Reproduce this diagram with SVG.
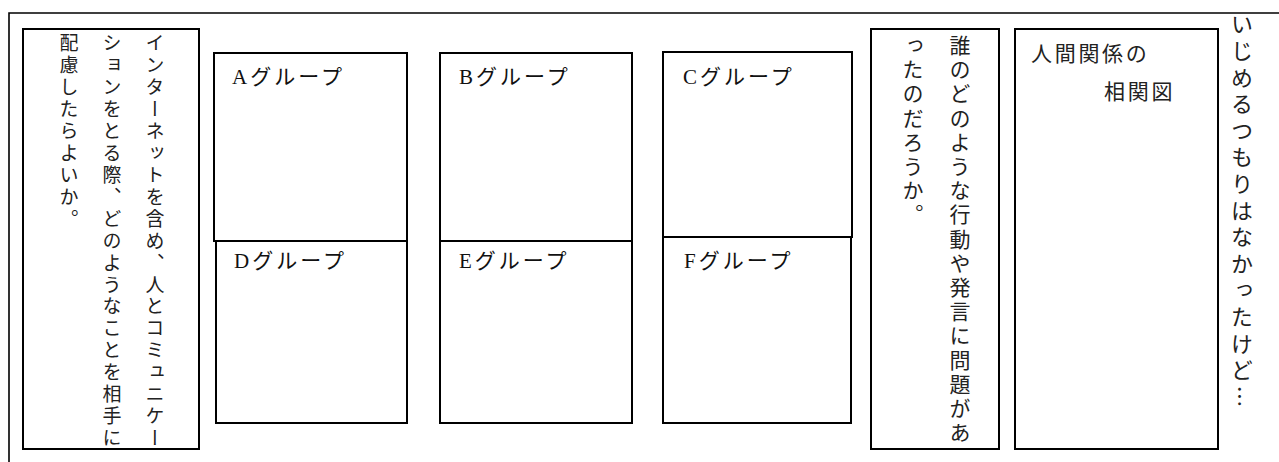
<svg xmlns="http://www.w3.org/2000/svg" width="1279" height="462" viewBox="0 0 1279 462">
<style>
  .box { fill: #fff; stroke: #000; stroke-width: 2; }
  .frame { fill: none; stroke: #000; stroke-width: 1.6; }
  .lbl { font-family: "Liberation Serif", "Noto Sans CJK JP", serif; font-size: 21px; letter-spacing: 3px; fill: #111; }
  .vt { font-family: "Noto Sans CJK JP", sans-serif; writing-mode: vertical-rl; fill: #222; }
  .ht { font-family: "Noto Sans CJK JP", sans-serif; font-size: 21px; letter-spacing: 2.7px; fill: #222; }
</style>
<rect width="1279" height="462" fill="#fff"/>
<g id="frame">
  <path class="frame" d="M9,462 V13 H1279"/>
</g>
<g id="question-left">
  <rect class="box" x="23" y="29" width="176" height="420"/>
  <text class="vt" x="155" y="33.5" style="font-size:19px;letter-spacing:2.94px">インターネットを含め、人とコミュニケー</text>
  <text class="vt" x="112" y="33.5" style="font-size:19px;letter-spacing:2.94px">ションをとる際、どのようなことを相手に</text>
  <text class="vt" x="69" y="33.5" style="font-size:19px;letter-spacing:2.94px">配慮したらよいか。</text>
</g>
<g id="group-a">
  <rect class="box" x="214" y="53" width="193" height="188"/>
  <text class="lbl" x="232" y="84">Aグループ</text>
</g>
<g id="group-b">
  <rect class="box" x="440" y="53" width="192" height="188"/>
  <text class="lbl" x="459" y="84">Bグループ</text>
</g>
<g id="group-c">
  <rect class="box" x="663" y="52" width="189" height="185"/>
  <text class="lbl" x="683" y="84">Cグループ</text>
</g>
<g id="group-d">
  <rect class="box" x="216" y="241" width="191" height="182"/>
  <text class="lbl" x="234" y="268">Dグループ</text>
</g>
<g id="group-e">
  <rect class="box" x="440" y="241" width="192" height="182"/>
  <text class="lbl" x="459" y="268">Eグループ</text>
</g>
<g id="group-f">
  <rect class="box" x="663" y="237" width="188" height="186"/>
  <text class="lbl" x="684" y="268">Fグループ</text>
</g>
<g id="question-right">
  <rect class="box" x="871" y="29" width="128" height="420"/>
  <text class="vt" x="960" y="34.5" style="font-size:21px;letter-spacing:3.2px">誰のどのような行動や発言に問題があ</text>
  <text class="vt" x="913" y="34.5" style="font-size:21px;letter-spacing:3.2px">ったのだろうか。</text>
</g>
<g id="relation-map">
  <rect class="box" x="1015" y="29" width="203" height="420"/>
  <text class="ht" x="1031" y="61">人間関係の</text>
  <text class="ht" x="1104" y="99">相関図</text>
</g>
<g id="caption">
  <text class="vt" x="1242" y="13" style="font-size:22px;letter-spacing:4.6px">いじめるつもりはなかったけど…</text>
</g>
<g id="connectors"></g>
</svg>
